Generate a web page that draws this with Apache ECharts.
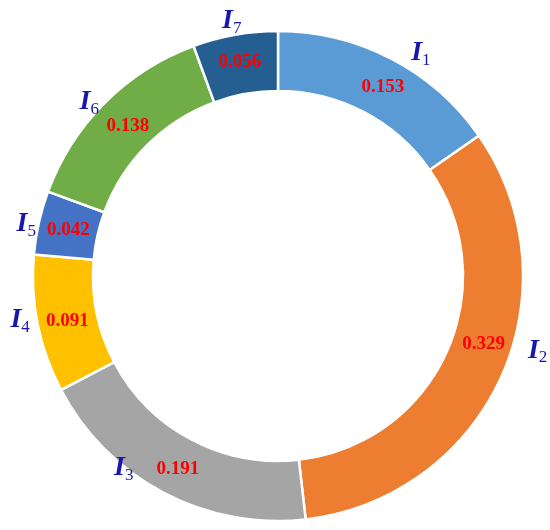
<!DOCTYPE html>
<html><head><meta charset="utf-8">
<script src="https://cdn.jsdelivr.net/npm/echarts@6/dist/echarts.min.js"></script>
<style>html,body{margin:0;padding:0;background:#fff}#c{width:550px;height:530px}</style>
</head><body><div id="c"></div>
<script>
const names = ['1','2','3','4','5','6','7'];
const values = [0.153, 0.329, 0.191, 0.091, 0.042, 0.138, 0.056];
const colors = ['#5B9BD5','#ED7D31','#A5A5A5','#FFC000','#4472C4','#70AD47','#255E91'];

// label nudges (styling only, to mimic hand-placed labels of the original)
const nameNudge = [[13,-2],[18,-28],[-23,-28],[1,-5],[6,2],[2,2],[12,-10]];
const valueNudge = [[4,4],[7,-22],[2,0],[3,2],[3,2],[4,4],[0,1]];

const chart = echarts.init(document.getElementById('c'));
const center = [278, 276];
const radius = [185, 245];
const data = values.map((v,i)=>({name:'I'+names[i], value:v, itemStyle:{color:colors[i]},
  label:{offset:valueNudge[i]}}));
chart.setOption({
  animation:false,
  series:[
    {
      type:'pie', center, radius, startAngle:90, clockwise:true,
      itemStyle:{borderColor:'#fff', borderWidth:2.5},
      label:{show:true, position:'inside', formatter:p=>p.value.toFixed(3),
        color:'#FF0000', fontFamily:'Liberation Serif', fontWeight:'bold', fontSize:19},
      labelLine:{show:false},
      data
    },
    {
      type:'pie', center, radius, startAngle:90, clockwise:true, silent:true,
      itemStyle:{color:'transparent', borderWidth:0},
      label:{show:true, position:'outside', overflow:'none', edgeDistance:0,
        formatter:p=>'{i|I}{s|'+p.data.sub+'}',
        rich:{
          i:{fontFamily:'Liberation Serif', fontStyle:'italic', fontWeight:'bold', fontSize:28, color:'#1717B0'},
          s:{fontFamily:'Liberation Serif', fontWeight:'normal', fontSize:17, color:'#1717B0', padding:[15,0,0,0]}
        }},
      labelLine:{show:false, length:4, length2:0},
      data: values.map((v,i)=>({name:'I'+names[i], value:v, sub:names[i], label:{offset:nameNudge[i]}}))
    }
  ]
});
</script></body></html>
